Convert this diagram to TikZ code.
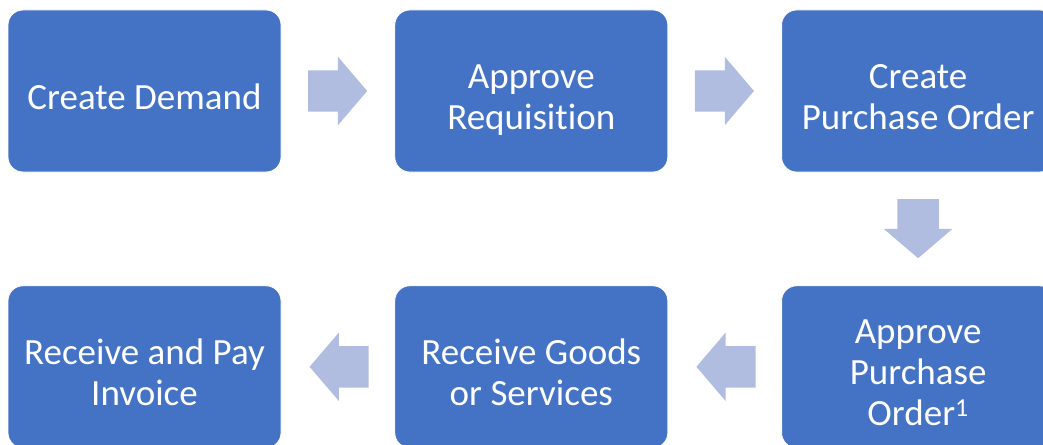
\documentclass[tikz,border=0pt]{standalone}
\usepackage{fontspec}
\setmainfont{Carlito}[Ligatures=NoCommon]
\usepackage{tikz}
\usetikzlibrary{positioning,shapes.arrows,calc}

\definecolor{stepblue}{HTML}{4472C4}
\definecolor{arrowblue}{HTML}{B0BDE0}

% first line of a step gets the full ascent
\newcommand{\firstline}{\rule{0pt}{46pt}}

\tikzset{
	stepbox/.style={draw=white, line width=0.8pt, fill=stepblue, rounded corners=15pt,
		minimum width=273pt, minimum height=162pt, text=white, align=center,
		font=\fontsize{37}{41}\selectfont,
		execute at end node={\rule[-10pt]{0pt}{10pt}}},
	flowarrow/.style={single arrow, fill=arrowblue, draw=none, inner sep=20.5pt,
		minimum height=58pt, minimum width=68pt, single arrow head extend=13.5pt,
		single arrow tip angle=99, single arrow head indent=0pt, anchor=tail}
}

\begin{document}
\begin{tikzpicture}[node distance=113pt]
	\useasboundingbox (0,0) rectangle (1043pt,-444pt);
	% top row, left to right
	\node[stepbox] (dem) at (144.5pt,-91pt) {\firstline Create Demand};
	\node[stepbox, right=of dem] (req) {\firstline Approve\\Requisition};
	\node[stepbox, right=of req] (po) {\firstline Create\\Purchase Order};
	% bottom row, right to left
	\node[stepbox, below=of po] (apo) {\firstline Approve\\Purchase\\Order\textsuperscript{1}};
	\node[stepbox, left=of apo] (gr) {\firstline Receive Goods\\or Services};
	\node[stepbox, left=of gr] (inv) {\firstline Receive and Pay\\Invoice};
	% block arrows between the steps, placed by their tails
	\node[flowarrow, xshift=-30pt] (a1) at ($(dem.east)!0.5!(req.west)$) {};
	\node[flowarrow, xshift=-30pt] (a2) at ($(req.east)!0.5!(po.west)$) {};
	\node[flowarrow, shape border rotate=270, yshift=30pt] (a3) at ($(po.south)!0.5!(apo.north)$) {};
	\node[flowarrow, shape border rotate=180, xshift=31pt] (a4) at ($(apo.west)!0.5!(gr.east)$) {};
	\node[flowarrow, shape border rotate=180, xshift=31pt] (a5) at ($(gr.west)!0.5!(inv.east)$) {};
\end{tikzpicture}
\end{document}
